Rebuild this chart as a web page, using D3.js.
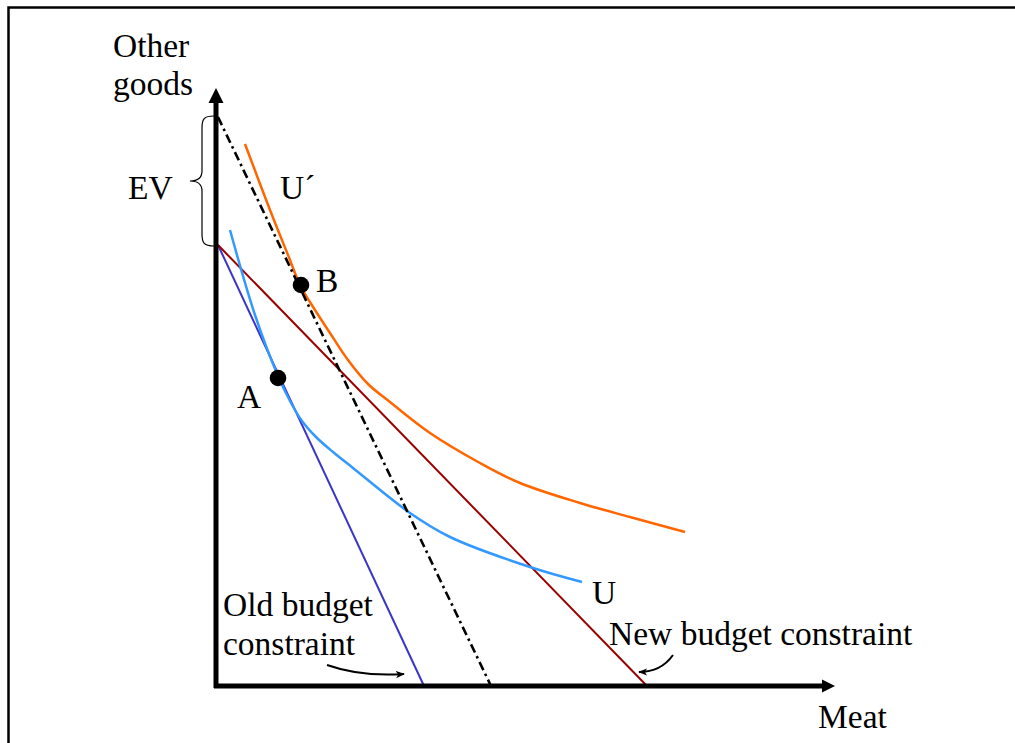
<!DOCTYPE html>
<html><head><meta charset="utf-8">
<script src="https://cdn.jsdelivr.net/npm/d3@7"></script>
<style>body{margin:0;background:#fff}text{font-family:"Liberation Serif","Times New Roman",serif;fill:#000}</style>
</head><body>
<svg id="c" width="1015" height="743"></svg>
<script>
// Data (units: meat on x, other goods on y)
const oldBudget = [[0.2, 44.1], [20.8, 0]];
const newBudget = [[0.2, 44.1], [43.1, 0]];
const evLine    = [[0.2, 56.9], [27.5, 0]];
const curveU = [[1.4,45.6],[3.9,37.1],[6.2,31.0],[7.4,28.5],[8.6,26.5],[10.0,24.9],[11.7,23.4],[13.7,21.8],[19.4,17.3],[23.4,14.9],[31.4,11.9],[36.6,10.4]];
const curveU2 = [[2.9,54.2],[5.4,47.6],[7.4,42.6],[8.4,40.1],[9.9,37.6],[11.4,35.3],[13.2,32.6],[15.2,30.2],[17.4,28.4],[21.4,25.3],[26.4,22.3],[30.4,20.3],[36.4,18.3],[41.4,16.9],[46.9,15.4]];
const points = [{name:"A", x:6.2, y:30.8}, {name:"B", x:8.5, y:40.1}];
const labels = [
  {t:"Other", x:-10.3, y:62.9}, {t:"goods", x:-10.3, y:59.1},
  {t:"EV", x:-8.8, y:48.7}, {t:"U\u00B4", x:6.4, y:48.7},
  {t:"B", x:10.0, y:39.4}, {t:"A", x:2.1, y:27.8},
  {t:"U", x:37.6, y:8.2},
  {t:"Old budget", x:0.7, y:7.0}, {t:"constraint", x:0.7, y:3.1},
  {t:"New budget constraint", x:39.3, y:4.1},
  {t:"Meat", x:60.2, y:-4.2}
];

const svg = d3.select("#c");
const x = d3.scaleLinear().domain([0, 62]).range([216, 836]);
const y = d3.scaleLinear().domain([0, 60]).range([686, 86]);

// frame
svg.append("path").attr("d","M8.5,743 L8.5,7.5 L1015,7.5").attr("fill","none").attr("stroke","#000").attr("stroke-width",2.5);

const line = d3.line().x(d=>x(d[0])).y(d=>y(d[1]));
const curve = d3.line().x(d=>x(d[0])).y(d=>y(d[1])).curve(d3.curveCatmullRom.alpha(0.5));

svg.append("path").attr("d", line(oldBudget)).attr("fill","none").attr("stroke","#3a34c8").attr("stroke-width",2);
svg.append("path").attr("d", line(newBudget)).attr("fill","none").attr("stroke","#990000").attr("stroke-width",2);
svg.append("path").attr("d", curve(curveU)).attr("fill","none").attr("stroke","#3399ff").attr("stroke-width",2.5);
svg.append("path").attr("d", curve(curveU2)).attr("fill","none").attr("stroke","#ff6600").attr("stroke-width",2.5);
svg.append("path").attr("d", line(evLine)).attr("fill","none").attr("stroke","#000").attr("stroke-width",2.6).attr("stroke-dasharray","9,4,2.5,4");

// axes
const x0 = x(0), y0 = y(0);
svg.append("line").attr("x1",x0).attr("y1",y0+2).attr("x2",x0).attr("y2",y(59)).attr("stroke","#000").attr("stroke-width",5);
svg.append("line").attr("x1",x0-2).attr("y1",y0).attr("x2",x(61)).attr("y2",y0).attr("stroke","#000").attr("stroke-width",5);
svg.append("path").attr("d",`M${x0},${y(59.8)} L${x0-7.5},${y(58.3)} L${x0+7.5},${y(58.3)} Z`).attr("fill","#000");
svg.append("path").attr("d",`M${x(61.9)},${y0} L${x(60.6)},${y0-6.5} L${x(60.6)},${y0+6.5} Z`).attr("fill","#000");

// EV brace
const bt = y(57.0), bb = y(44.0), bm = (bt+bb)/2, bx = x0-2;
svg.append("path").attr("d",
  `M${bx},${bt} C${bx-10},${bt} ${bx-12},${bt+3} ${bx-12},${bt+12} L${bx-12},${bm-10} C${bx-12},${bm-3} ${bx-16},${bm} ${bx-24},${bm} C${bx-16},${bm} ${bx-12},${bm+3} ${bx-12},${bm+10} L${bx-12},${bb-12} C${bx-12},${bb-3} ${bx-10},${bb} ${bx},${bb}`)
  .attr("fill","none").attr("stroke","#000").attr("stroke-width",1.2);

// points
svg.selectAll("circle.pt").data(points).join("circle").attr("class","pt")
  .attr("cx",d=>x(d.x)).attr("cy",d=>y(d.y)).attr("r",8.3).attr("fill","#000");

// labels
svg.selectAll("text.lb").data(labels).join("text").attr("class","lb")
  .attr("x",d=>x(d.x)).attr("y",d=>y(d.y)).attr("font-size",33.5).text(d=>d.t);

// pointer arrows
svg.append("defs").append("marker").attr("id","ah").attr("viewBox","0 0 10 10").attr("refX",9).attr("refY",5)
  .attr("markerWidth",9).attr("markerHeight",9).attr("markerUnits","userSpaceOnUse").attr("orient","auto")
  .append("path").attr("d","M0,1 L10,5 L0,9 L2.5,5 Z").attr("fill","#000");
svg.append("path").attr("d",`M${x(11.1)},${y(2.1)} Q${x(14.5)},${y(0.9)} ${x(18.8)},${y(1.2)}`)
  .attr("fill","none").attr("stroke","#000").attr("stroke-width",2).attr("marker-end","url(#ah)");
svg.append("path").attr("d",`M${x(45.7)},${y(3.1)} Q${x(44.5)},${y(1.4)} ${x(42.3)},${y(1.4)}`)
  .attr("fill","none").attr("stroke","#000").attr("stroke-width",2).attr("marker-end","url(#ah)");
</script>
</body></html>
